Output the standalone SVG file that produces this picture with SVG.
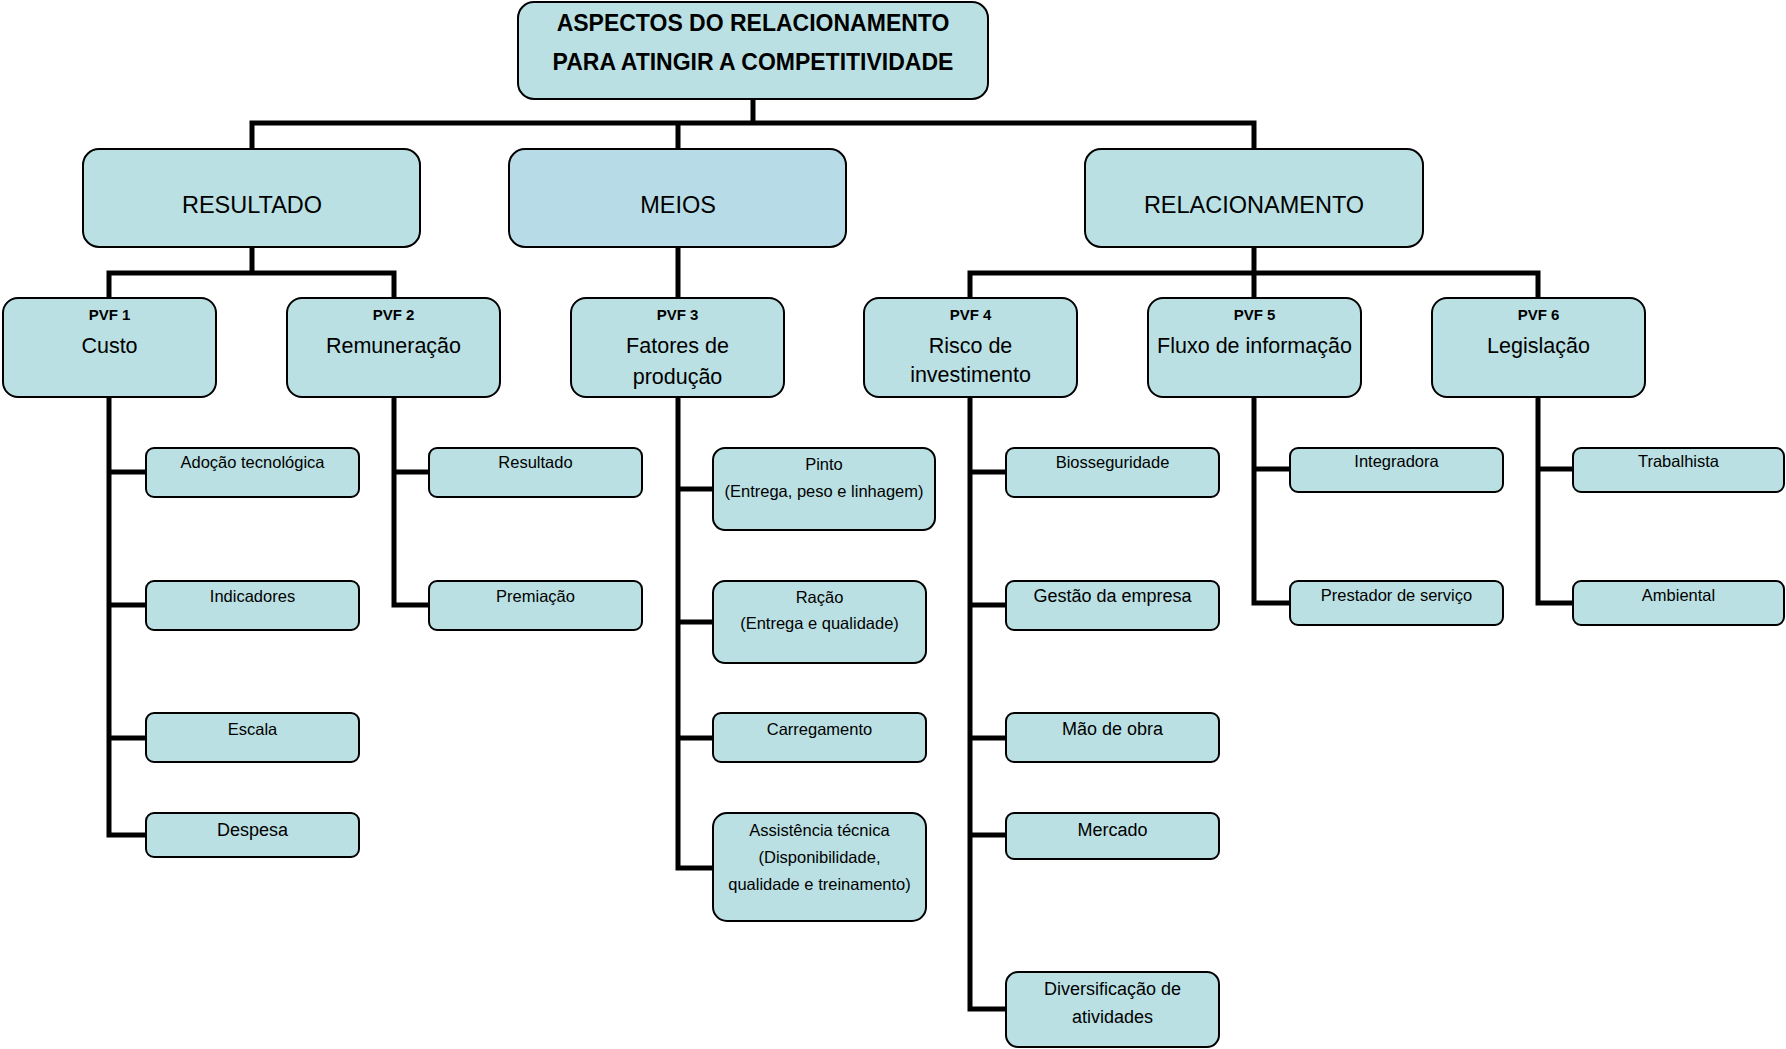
<svg xmlns="http://www.w3.org/2000/svg" width="1786" height="1049" viewBox="0 0 1786 1049">
  <style>
    .box { fill: #BAE0E3; stroke: #000; stroke-width: 2; }
    .meios { fill: #B8DCE7; }
    .wire { fill: none; stroke: #000; stroke-width: 5; stroke-linejoin: miter; stroke-linecap: butt; }
    text { font-family: "Liberation Sans", Arial, sans-serif; fill: #000; text-anchor: middle; }
    .title { font-weight: bold; font-size: 23px; }
    .lvl1 { font-size: 23.5px; }
    .pvf { font-weight: bold; font-size: 15px; }
    .pvfname { font-size: 21.5px; }
    .leaf { font-size: 16.5px; }
    .leafL { font-size: 18px; }
  </style>
  <rect width="1786" height="1049" fill="#fff"/>

  <!-- connectors -->
  <g id="connectors" class="wire">
    <path d="M753,99 V123 M252,149 V123 H1254 V149 M678,123 V149"/>
    <path d="M252,247 V273 M109,298 V273 H394 V298"/>
    <path d="M678,247 V298"/>
    <path d="M1254,247 V298 M970,298 V273 H1538 V298"/>
    <path d="M109,397 V835 H146 M109,472 H146 M109,605 H146 M109,738 H146"/>
    <path d="M394,397 V605 H429 M394,472 H429"/>
    <path d="M678,397 V868 H713 M678,489 H713 M678,622 H713 M678,738 H713"/>
    <path d="M970,397 V1009 H1006 M970,472 H1006 M970,605 H1006 M970,738 H1006 M970,835 H1006"/>
    <path d="M1254,397 V603 H1290 M1254,469 H1290"/>
    <path d="M1538,397 V603 H1573 M1538,469 H1573"/>
  </g>

  <!-- root -->
  <g id="root">
    <rect class="box" x="518" y="2" width="470" height="97" rx="16"/>
    <text class="title" x="753" y="31">ASPECTOS DO RELACIONAMENTO</text>
    <text class="title" x="753" y="70">PARA ATINGIR A COMPETITIVIDADE</text>
  </g>

  <!-- first level -->
  <g id="resultado">
    <rect class="box" x="83" y="149" width="337" height="98" rx="16"/>
    <text class="lvl1" x="252" y="213">RESULTADO</text>
  </g>
  <g id="meios">
    <rect class="box meios" x="509" y="149" width="337" height="98" rx="16"/>
    <text class="lvl1" x="678" y="213">MEIOS</text>
  </g>
  <g id="relacionamento">
    <rect class="box" x="1085" y="149" width="338" height="98" rx="16"/>
    <text class="lvl1" x="1254" y="213">RELACIONAMENTO</text>
  </g>

  <!-- PVF level -->
  <g id="pvf1">
    <rect class="box" x="3" y="298" width="213" height="99" rx="15"/>
    <text class="pvf" x="109.5" y="320">PVF 1</text>
    <text class="pvfname" x="109.5" y="353">Custo</text>
  </g>
  <g id="pvf2">
    <rect class="box" x="287" y="298" width="213" height="99" rx="15"/>
    <text class="pvf" x="393.5" y="320">PVF 2</text>
    <text class="pvfname" x="393.5" y="353">Remuneração</text>
  </g>
  <g id="pvf3">
    <rect class="box" x="571" y="298" width="213" height="99" rx="15"/>
    <text class="pvf" x="677.5" y="320">PVF 3</text>
    <text class="pvfname" x="677.5" y="353">Fatores de</text>
    <text class="pvfname" x="677.5" y="384">produção</text>
  </g>
  <g id="pvf4">
    <rect class="box" x="864" y="298" width="213" height="99" rx="15"/>
    <text class="pvf" x="970.5" y="320">PVF 4</text>
    <text class="pvfname" x="970.5" y="353">Risco de</text>
    <text class="pvfname" x="970.5" y="382">investimento</text>
  </g>
  <g id="pvf5">
    <rect class="box" x="1148" y="298" width="213" height="99" rx="15"/>
    <text class="pvf" x="1254.5" y="320">PVF 5</text>
    <text class="pvfname" x="1254.5" y="353">Fluxo de informação</text>
  </g>
  <g id="pvf6">
    <rect class="box" x="1432" y="298" width="213" height="99" rx="15"/>
    <text class="pvf" x="1538.5" y="320">PVF 6</text>
    <text class="pvfname" x="1538.5" y="353">Legislação</text>
  </g>

  <!-- PVF 1 items -->
  <g id="adocao">
    <rect class="box" x="146" y="448" width="213" height="49" rx="8"/>
    <text class="leaf" x="252.5" y="468">Adoção tecnológica</text>
  </g>
  <g id="indicadores">
    <rect class="box" x="146" y="581" width="213" height="49" rx="8"/>
    <text class="leaf" x="252.5" y="602">Indicadores</text>
  </g>
  <g id="escala">
    <rect class="box" x="146" y="713" width="213" height="49" rx="8"/>
    <text class="leaf" x="252.5" y="735">Escala</text>
  </g>
  <g id="despesa">
    <rect class="box" x="146" y="813" width="213" height="44" rx="8"/>
    <text class="leafL" x="252.5" y="836">Despesa</text>
  </g>

  <!-- PVF 2 items -->
  <g id="resultado-item">
    <rect class="box" x="429" y="448" width="213" height="49" rx="8"/>
    <text class="leaf" x="535.5" y="468">Resultado</text>
  </g>
  <g id="premiacao">
    <rect class="box" x="429" y="581" width="213" height="49" rx="8"/>
    <text class="leaf" x="535.5" y="602">Premiação</text>
  </g>

  <!-- PVF 3 items -->
  <g id="pinto">
    <rect class="box" x="713" y="448" width="222" height="82" rx="12"/>
    <text class="leaf" x="824" y="470">Pinto</text>
    <text class="leaf" x="824" y="497">(Entrega, peso e linhagem)</text>
  </g>
  <g id="racao">
    <rect class="box" x="713" y="581" width="213" height="82" rx="12"/>
    <text class="leaf" x="819.5" y="603">Ração</text>
    <text class="leaf" x="819.5" y="629">(Entrega e qualidade)</text>
  </g>
  <g id="carregamento">
    <rect class="box" x="713" y="713" width="213" height="49" rx="8"/>
    <text class="leaf" x="819.5" y="735">Carregamento</text>
  </g>
  <g id="assistencia">
    <rect class="box" x="713" y="813" width="213" height="108" rx="14"/>
    <text class="leaf" x="819.5" y="836">Assistência técnica</text>
    <text class="leaf" x="819.5" y="863">(Disponibilidade,</text>
    <text class="leaf" x="819.5" y="890">qualidade e treinamento)</text>
  </g>

  <!-- PVF 4 items -->
  <g id="biosseguridade">
    <rect class="box" x="1006" y="448" width="213" height="49" rx="8"/>
    <text class="leaf" x="1112.5" y="468">Biosseguridade</text>
  </g>
  <g id="gestao">
    <rect class="box" x="1006" y="581" width="213" height="49" rx="8"/>
    <text class="leafL" x="1112.5" y="602">Gestão da empresa</text>
  </g>
  <g id="mao-de-obra">
    <rect class="box" x="1006" y="713" width="213" height="49" rx="8"/>
    <text class="leafL" x="1112.5" y="735">Mão de obra</text>
  </g>
  <g id="mercado">
    <rect class="box" x="1006" y="813" width="213" height="46" rx="8"/>
    <text class="leafL" x="1112.5" y="836">Mercado</text>
  </g>
  <g id="diversificacao">
    <rect class="box" x="1006" y="972" width="213" height="75" rx="12"/>
    <text class="leafL" x="1112.5" y="995">Diversificação de</text>
    <text class="leafL" x="1112.5" y="1023">atividades</text>
  </g>

  <!-- PVF 5 items -->
  <g id="integradora">
    <rect class="box" x="1290" y="448" width="213" height="44" rx="8"/>
    <text class="leaf" x="1396.5" y="467">Integradora</text>
  </g>
  <g id="prestador">
    <rect class="box" x="1290" y="581" width="213" height="44" rx="8"/>
    <text class="leaf" x="1396.5" y="601">Prestador de serviço</text>
  </g>

  <!-- PVF 6 items -->
  <g id="trabalhista">
    <rect class="box" x="1573" y="448" width="211" height="44" rx="8"/>
    <text class="leaf" x="1678.5" y="467">Trabalhista</text>
  </g>
  <g id="ambiental">
    <rect class="box" x="1573" y="581" width="211" height="44" rx="8"/>
    <text class="leaf" x="1678.5" y="601">Ambiental</text>
  </g>
</svg>
